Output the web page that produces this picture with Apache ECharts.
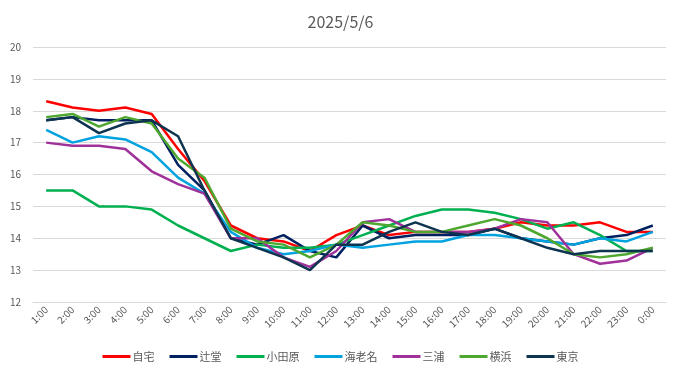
<!DOCTYPE html>
<html><head><meta charset="utf-8">
<script src="https://cdn.jsdelivr.net/npm/echarts@6/dist/echarts.min.js"></script>
<style>html,body{margin:0;padding:0;background:#fff}#c{width:681px;height:379px}</style>
</head><body><div id="c"></div>
<script>
const title = "2025/5/6";
const hours = ["1:00","2:00","3:00","4:00","5:00","6:00","7:00","8:00","9:00","10:00","11:00","12:00","13:00","14:00","15:00","16:00","17:00","18:00","19:00","20:00","21:00","22:00","23:00","0:00"];
const jitaku   = [18.3,18.1,18.0,18.1,17.9,16.8,15.8,14.4,14.0,13.9,13.6,14.1,14.4,14.1,14.2,14.2,14.2,14.3,14.5,14.4,14.4,14.5,14.2,14.2];
const tsujido  = [17.7,17.8,17.7,17.7,17.7,16.3,15.5,14.0,13.8,14.1,13.6,13.4,14.4,14.0,14.1,14.1,14.1,14.3,14.0,13.9,13.8,14.0,14.1,14.4];
const odawara  = [15.5,15.5,15.0,15.0,14.9,14.4,14.0,13.6,13.8,13.7,13.7,13.8,14.1,14.4,14.7,14.9,14.9,14.8,14.6,14.3,14.5,14.1,13.6,13.6];
const ebina    = [17.4,17.0,17.2,17.1,16.7,15.9,15.4,14.2,13.7,13.5,13.6,13.8,13.7,13.8,13.9,13.9,14.1,14.1,14.0,13.9,13.8,14.0,13.9,14.2];
const miura    = [17.0,16.9,16.9,16.8,16.1,15.7,15.4,14.0,14.0,13.4,13.1,13.6,14.5,14.6,14.2,14.2,14.2,14.3,14.6,14.5,13.5,13.2,13.3,13.7];
const yokohama = [17.8,17.9,17.5,17.8,17.6,16.5,15.9,14.3,13.9,13.8,13.4,13.8,14.5,14.4,14.2,14.2,14.4,14.6,14.4,14.0,13.5,13.4,13.5,13.7];
const tokyo    = [17.7,17.8,17.3,17.6,17.7,17.2,15.5,14.0,13.7,13.4,13.0,13.8,13.8,14.2,14.5,14.2,14.1,14.3,14.0,13.7,13.5,13.6,13.6,13.6];
const seriesNames = ["自宅","辻堂","小田原","海老名","三浦","横浜","東京"];
const seriesData = [jitaku, tsujido, odawara, ebina, miura, yokohama, tokyo];
const colors = ["#FF0000","#002060","#00B050","#00A2E0","#A0309A","#4EA72E","#0E3450"];

const font = "'Noto Sans CJK JP','Noto Sans',sans-serif";
const chart = echarts.init(document.getElementById('c'));
chart.setOption({
  animation: false,
  color: colors,
  title: { text: title, left: 'center', top: 9, textStyle: { fontSize: 16, fontWeight: 'normal', color: '#595959', fontFamily: font } },
  grid: { left: 33, right: 15, top: 47, bottom: 77, containLabel: false },
  legend: {
    bottom: 12, left: 'center', icon: 'rect', itemWidth: 28, itemHeight: 3, itemGap: 15,
    textStyle: { fontSize: 11, color: '#595959', fontFamily: font, padding: [0,0,0,-3] },
    data: seriesNames
  },
  xAxis: {
    type: 'category', data: hours, boundaryGap: true,
    axisLine: { lineStyle: { color: '#d9d9d9' } },
    axisTick: { show: false },
    axisLabel: { rotate: 45, fontSize: 10, color: '#595959', fontFamily: font, interval: 0, margin: 6 }
  },
  yAxis: {
    type: 'value', min: 12, max: 20, interval: 1,
    axisLine: { show: false }, axisTick: { show: false },
    axisLabel: { fontSize: 10, color: '#595959', fontFamily: font, margin: 12 },
    splitLine: { lineStyle: { color: '#d9d9d9', width: 1 } }
  },
  series: seriesNames.map((n, i) => ({
    name: n, type: 'line', data: seriesData[i], showSymbol: false, symbol: 'none',
    lineStyle: { width: 2.5, color: colors[i] }, itemStyle: { color: colors[i] }
  }))
});
</script></body></html>
